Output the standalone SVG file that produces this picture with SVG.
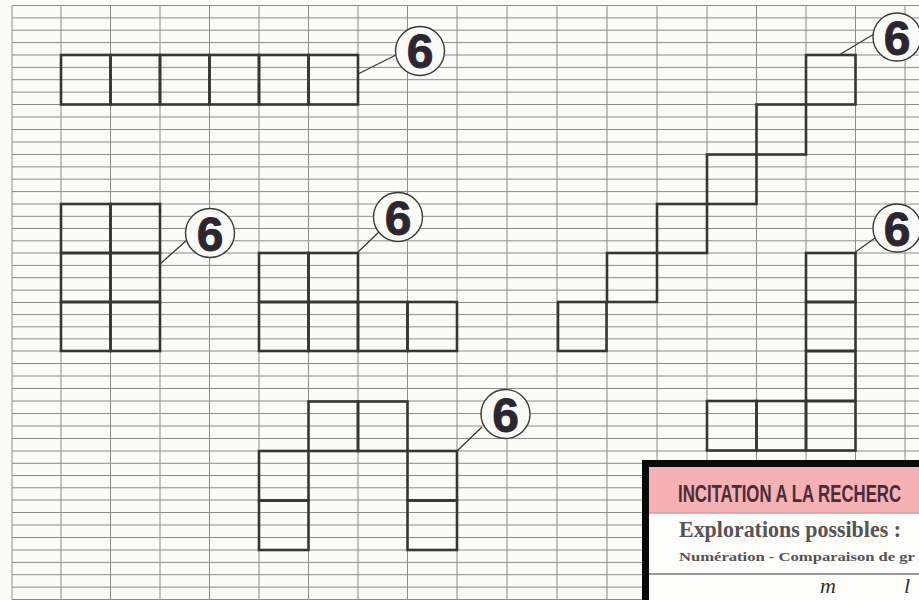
<svg xmlns="http://www.w3.org/2000/svg" width="919" height="600" viewBox="0 0 919 600">
<defs>
<style>
.grid{stroke:#8c8c8c;stroke-width:1;fill:none}
.sq{fill:none;stroke:#363636;stroke-width:2.6}
.lead{stroke:#3a3a3a;stroke-width:1.3;fill:none}
.ring{fill:#fbfbf8;stroke:#3a3a3a;stroke-width:1.4}
.num{font-family:"Liberation Sans",Arial,sans-serif;font-weight:bold;font-size:48px;fill:#2c2630;stroke:#2c2630;stroke-width:0.9;text-anchor:middle}
</style>
</defs>
<rect x="0" y="0" width="919" height="600" fill="#fbfbf8"/>
<g id="grid">
<path class="grid" d="M12 5.5V600M61 5.5V600M110.5 5.5V600M160 5.5V600M209.5 5.5V600M259 5.5V600M308.5 5.5V600M358 5.5V600M407.5 5.5V600M457 5.5V600M507 5.5V600M557 5.5V600M607 5.5V600M657 5.5V600M707 5.5V600M756.5 5.5V600M806 5.5V600M855.5 5.5V600M905 5.5V600"/>
<path class="grid" stroke="#9a9a9a" d="M12 5.5H919M12 17.9H919M12 30.2H919M12 42.6H919M12 55H919M12 67.4H919M12 79.7H919M12 92.1H919M12 104.5H919M12 117H919M12 129.5H919M12 142H919M12 154.5H919M12 166.9H919M12 179.2H919M12 191.6H919M12 204H919M12 216.3H919M12 228.5H919M12 240.8H919M12 253H919M12 265.4H919M12 277.7H919M12 290.1H919M12 302.5H919M12 314.6H919M12 326.8H919M12 338.9H919M12 351H919M12 363.5H919M12 376H919M12 388.5H919M12 401H919M12 413.5H919M12 426H919M12 438.5H919M12 451H919M12 463.3H919M12 475.5H919M12 487.8H919M12 500H919M12 512.5H919M12 525H919M12 537.5H919M12 550H919M12 562.4H919M12 574.7H919M12 587.1H919M12 599.5H919"/>
</g>
<g id="shape-row">
<rect class="sq" x="61" y="55" width="49.5" height="49.5"/>
<rect class="sq" x="110.5" y="55" width="49.5" height="49.5"/>
<rect class="sq" x="160" y="55" width="49.5" height="49.5"/>
<rect class="sq" x="209.5" y="55" width="49.5" height="49.5"/>
<rect class="sq" x="259" y="55" width="49.5" height="49.5"/>
<rect class="sq" x="308.5" y="55" width="49.5" height="49.5"/>
</g>
<g id="shape-block">
<rect class="sq" x="61" y="204" width="49.5" height="49"/>
<rect class="sq" x="110.5" y="204" width="49.5" height="49"/>
<rect class="sq" x="61" y="253" width="49.5" height="49"/>
<rect class="sq" x="110.5" y="253" width="49.5" height="49"/>
<rect class="sq" x="61" y="302" width="49.5" height="49"/>
<rect class="sq" x="110.5" y="302" width="49.5" height="49"/>
</g>
<g id="shape-step">
<rect class="sq" x="259" y="253" width="49.5" height="49"/>
<rect class="sq" x="308.5" y="253" width="49.5" height="49"/>
<rect class="sq" x="259" y="302" width="49.5" height="49"/>
<rect class="sq" x="308.5" y="302" width="49.5" height="49"/>
<rect class="sq" x="358" y="302" width="49.5" height="49"/>
<rect class="sq" x="407.5" y="302" width="49.5" height="49"/>
</g>
<g id="shape-arch">
<rect class="sq" x="308.5" y="401.5" width="49.5" height="49.5"/>
<rect class="sq" x="358" y="401.5" width="49.5" height="49.5"/>
<rect class="sq" x="259" y="451" width="49.5" height="49.5"/>
<rect class="sq" x="259" y="500.5" width="49.5" height="49.5"/>
<rect class="sq" x="407.5" y="451" width="49.5" height="49.5"/>
<rect class="sq" x="407.5" y="500.5" width="49.5" height="49.5"/>
</g>
<g id="shape-stairs">
<rect class="sq" x="558" y="302" width="48.5" height="49"/>
<rect class="sq" x="607" y="253" width="50" height="49"/>
<rect class="sq" x="657" y="204" width="50" height="49"/>
<rect class="sq" x="707" y="154.5" width="49.5" height="49.5"/>
<rect class="sq" x="756.5" y="104.5" width="49.5" height="50"/>
<rect class="sq" x="806" y="55" width="49.5" height="49.5"/>
</g>
<g id="shape-hook">
<rect class="sq" x="806" y="253" width="49.5" height="49"/>
<rect class="sq" x="806" y="302" width="49.5" height="49"/>
<rect class="sq" x="806" y="351" width="49.5" height="50"/>
<rect class="sq" x="806" y="401" width="49.5" height="49.5"/>
<rect class="sq" x="756.5" y="401" width="49.5" height="49.5"/>
<rect class="sq" x="707" y="401" width="49.5" height="49.5"/>
</g>
<g id="connectors">
<path class="lead" d="M358 74L396 55"/>
<path class="lead" d="M160 264L187 240"/>
<path class="lead" d="M358 252L379 232"/>
<path class="lead" d="M457 451L482 427"/>
<path class="lead" d="M839 55L874 34"/>
<path class="lead" d="M855.5 252L875 238"/>
</g>
<g id="label-row"><circle class="ring" cx="420" cy="51" r="24.5"/><text class="num" x="420" y="68">6</text></g>
<g id="label-block"><circle class="ring" cx="210" cy="233" r="24.5"/><text class="num" x="210" y="250.5">6</text></g>
<g id="label-step"><circle class="ring" cx="398" cy="217" r="24.5"/><text class="num" x="398" y="234.5">6</text></g>
<g id="label-arch"><circle class="ring" cx="505.5" cy="414" r="24.5"/><text class="num" x="505.5" y="431.5">6</text></g>
<g id="label-stairs"><circle class="ring" cx="897" cy="37" r="24"/><text class="num" x="897" y="54.5">6</text></g>
<g id="label-hook"><circle class="ring" cx="897" cy="228" r="24"/><text class="num" x="897" y="245.5">6</text></g>
<g id="card">
<rect x="649" y="467" width="270" height="133" fill="#fdfdfb"/>
<rect x="642" y="460" width="277" height="7" fill="#0a0a0a"/>
<rect x="642" y="460" width="7" height="140" fill="#0a0a0a"/>
<rect x="649" y="467" width="270" height="46" fill="#f5b1b4"/>
<line x1="649" y1="513" x2="919" y2="513" stroke="#d99a9c" stroke-width="1.5"/>
<text transform="translate(678 502) scale(1 1.37)" x="0" y="0" font-family="'Liberation Sans',Arial,sans-serif" font-weight="bold" font-size="16.8" fill="#4a2c3a">INCITATION A LA RECHERC</text>
<text x="679" y="537" font-family="'Liberation Serif','Times New Roman',serif" font-weight="bold" font-size="23" fill="#555355" textLength="222" lengthAdjust="spacingAndGlyphs">Explorations possibles :</text>
<text x="679" y="561" font-family="'Liberation Serif','Times New Roman',serif" font-weight="bold" font-size="13.5" fill="#555355" textLength="236" lengthAdjust="spacingAndGlyphs">Numération - Comparaison de gr</text>
<line x1="649" y1="574" x2="919" y2="574" stroke="#777" stroke-width="1.5"/>
<text x="820" y="593" font-family="'Liberation Serif',serif" font-style="italic" font-size="22" fill="#333">m</text>
<text x="904" y="593" font-family="'Liberation Serif',serif" font-style="italic" font-size="22" fill="#333">l</text>
</g>
</svg>
